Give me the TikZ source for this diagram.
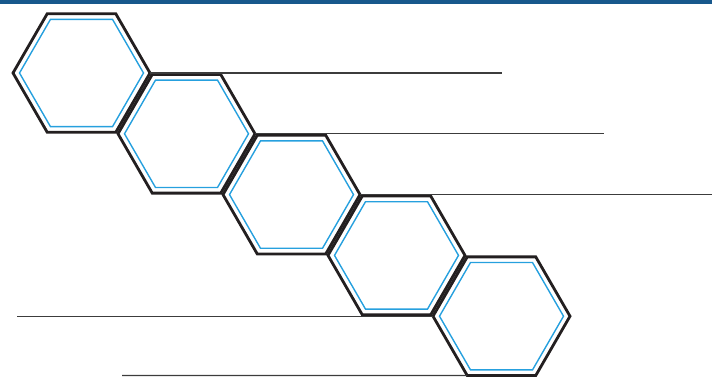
\documentclass[tikz,border=0pt]{standalone}
\usetikzlibrary{shapes.geometric}
\definecolor{hexblack}{RGB}{35,31,32}
\definecolor{hexblue}{RGB}{38,160,222}
\definecolor{barblue}{RGB}{24,88,140}
\definecolor{linegray}{RGB}{60,60,60}
\tikzset{
  hexout/.style={regular polygon, regular polygon sides=6,
    minimum size=137pt, inner sep=0pt, outer sep=0pt, draw=hexblack, line width=2.8pt},
  hexin/.style={regular polygon, regular polygon sides=6,
    minimum size=124pt, inner sep=0pt, outer sep=0pt, draw=hexblue, line width=1.4pt},
  leader/.style={draw=linegray, line width=1.2pt}
}
\begin{document}
\begin{tikzpicture}[x=1pt,y=-1pt]
\useasboundingbox (0,0) rectangle (712,377);
\fill[barblue] (0,0) rectangle (712,4);
% hexagon centres
\coordinate (c1) at (81.5,73);
\coordinate (c2) at (186.5,133.8);
\coordinate (c3) at (291.5,194.6);
\coordinate (c4) at (396.5,255.4);
\coordinate (c5) at (501.5,316.2);
% free line ends
\coordinate (e1) at (502,73);
\coordinate (e2) at (604,133.8);
\coordinate (e3) at (712,194.6);
\coordinate (e4) at (17,316.2);
\coordinate (e5) at (122,375.5);
% hexagons
\foreach \i in {1,...,5}{
  \node[hexout] (h\i) at (c\i) {};
  \node[hexin] (hi\i) at (c\i) {};
}
% leader lines
\draw[leader] (h1.0) -- (e1);
\draw[leader] (h2.0) -- (e2);
\draw[leader] (h3.0) -- (e3);
\draw[leader] (e4) -- (h5.180);
\draw[leader] (e5) -- (h5.240);
\end{tikzpicture}
\end{document}
